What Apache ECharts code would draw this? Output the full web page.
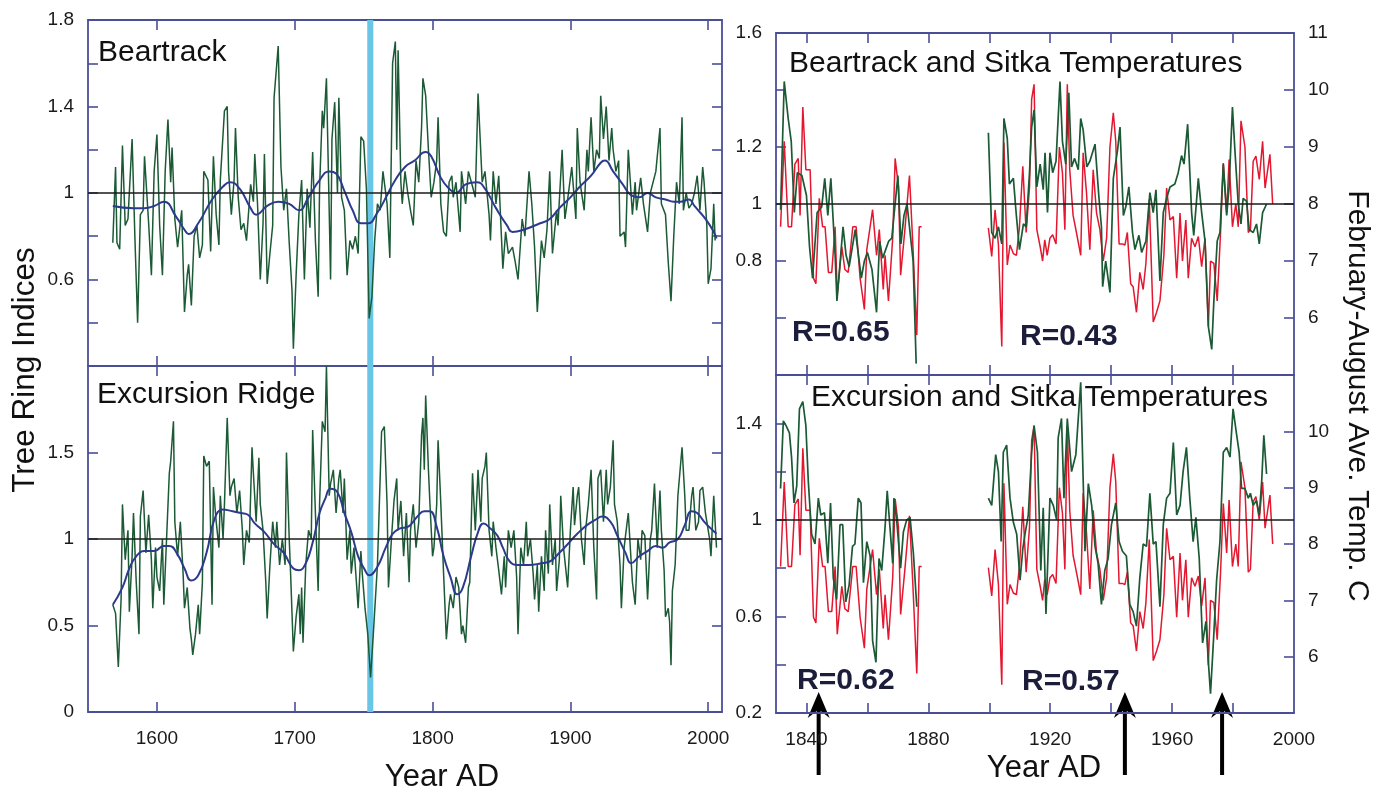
<!DOCTYPE html>
<html>
<head>
<meta charset="utf-8">
<script src="https://cdn.jsdelivr.net/npm/echarts@6/dist/echarts.min.js"></script>
<style>
  html, body { margin: 0; padding: 0; background: #fff; }
  #main { width: 1384px; height: 792px; }
</style>
</head>
<body>
<div id="main"></div>
<script>
// tick / label positions
const leftXTicks = [1600, 1700, 1800, 1900, 2000];
const rightXTicks = [1840, 1860, 1880, 1900, 1920, 1940, 1960, 1980];
const rightXLabels = [1840, 1880, 1920, 1960, 2000];
const btYTicks = [0.4, 0.6, 0.8, 1, 1.2, 1.4, 1.6];
const btYLabels = [0.6, 1, 1.4, 1.8];
const exYTicks = [0.5, 1, 1.5];
const exYLabels = [0, 0.5, 1, 1.5];
const btRYTicks = [0.6, 0.8, 1, 1.2, 1.4];
const btRYLabels = [0.8, 1, 1.2, 1.6];
const exRYTicks = [0.4, 0.6, 0.8, 1, 1.2, 1.4];
const exRYLabels = [0.2, 0.6, 1, 1.4];
const tempTicks = [6, 7, 8, 9, 10];
const tempTopLabels = [6, 7, 8, 9, 10, 11];
const tempBottomLabels = [6, 7, 8, 9, 10];
const bandYears = [1752.6, 1757];
const arrowYears = [1844, 1944.5, 1976.4];

// Beartrack ring width index, 1568-2005
const beartrack = [
  [1568,0.77],[1570,1.12],[1571,0.77],[1573,0.74],[1575,1.22],[1577,0.85],[1579,0.88],[1582,1.25],[1584,0.80],[1586,0.40],
  [1588,0.90],[1590,0.92],[1591,1.17],[1594,0.86],[1596,0.62],[1598,1.10],[1600,1.27],[1602,0.85],[1604,0.62],[1606,1.10],
  [1608,1.34],[1610,1.05],[1611,1.21],[1613,0.88],[1615,0.75],[1618,0.92],[1620,0.45],[1622,0.62],[1623,0.67],[1625,0.48],
  [1627,0.80],[1629,0.85],[1631,0.70],[1633,0.76],[1634,1.10],[1637,1.06],[1639,0.73],[1641,1.17],[1643,0.90],[1645,0.76],
  [1646,1.06],[1649,1.38],[1651,1.40],[1652,1.10],[1654,0.90],[1656,1.06],[1657,1.30],[1659,0.98],[1661,0.83],[1663,0.86],
  [1665,0.78],[1668,1.04],[1670,0.96],[1671,1.18],[1673,0.95],[1675,0.60],[1677,0.86],[1678,1.18],[1680,0.58],[1682,0.72],
  [1684,0.85],[1685,1.44],[1688,1.68],[1690,1.12],[1692,0.92],[1694,1.02],[1696,0.77],[1698,0.55],[1699,0.28],[1701,0.62],
  [1703,0.90],[1705,1.06],[1707,0.60],[1709,1.02],[1711,0.84],[1713,1.19],[1715,0.78],[1717,0.52],[1718,1.02],[1720,1.38],
  [1721,1.30],[1723,1.53],[1725,0.92],[1726,0.60],[1727,1.25],[1729,1.42],[1731,1.00],[1732,1.44],[1734,0.98],[1736,0.92],
  [1738,0.62],[1740,0.78],[1742,0.74],[1744,0.80],[1746,0.72],[1748,1.26],[1750,1.24],[1752,1.02],[1754,0.42],[1756,0.52],
  [1758,0.78],[1760,0.95],[1762,0.92],[1764,1.10],[1767,0.95],[1769,0.70],[1771,1.60],[1773,1.70],[1774,1.20],[1775,1.66],
  [1777,1.05],[1778,0.95],[1780,1.10],[1782,1.00],[1784,0.92],[1786,0.85],[1788,1.15],[1790,1.05],[1792,1.30],[1793,1.53],
  [1795,1.45],[1797,1.20],[1799,0.98],[1801,1.05],[1803,1.15],[1804,1.35],[1806,0.95],[1808,0.82],[1810,0.80],[1812,1.05],
  [1814,1.08],[1815,0.98],[1817,1.05],[1820,0.82],[1821,1.10],[1824,0.95],[1826,1.10],[1829,1.03],[1831,0.98],[1833,1.46],
  [1836,1.05],[1838,1.10],[1841,0.90],[1842,0.78],[1844,1.10],[1846,0.95],[1848,1.08],[1851,0.65],[1853,0.82],[1855,0.72],
  [1858,0.75],[1860,0.68],[1862,0.60],[1865,0.88],[1867,0.80],[1870,1.10],[1872,0.95],[1874,0.75],[1876,0.45],[1879,0.78],
  [1881,0.70],[1883,0.83],[1885,1.10],[1887,0.72],[1890,0.92],[1891,0.85],[1894,1.20],[1896,0.88],[1898,0.97],[1901,1.12],
  [1904,0.88],[1905,1.30],[1907,1.05],[1910,0.92],[1912,1.20],[1913,1.10],[1915,1.35],[1917,1.10],[1919,1.20],[1921,1.16],
  [1922,1.45],[1924,1.25],[1926,1.40],[1928,1.15],[1930,1.30],[1931,1.20],[1933,1.10],[1935,1.15],[1936,0.80],[1939,0.82],
  [1940,0.75],[1942,1.20],[1945,0.90],[1947,1.05],[1948,0.92],[1951,1.07],[1953,0.95],[1956,0.82],[1958,1.00],[1960,1.05],
  [1962,1.10],[1965,1.30],[1966,0.95],[1969,0.90],[1971,0.68],[1973,0.50],[1975,0.80],[1977,1.05],[1979,0.95],[1981,1.35],
  [1982,0.92],[1984,1.00],[1986,0.93],[1988,0.95],[1990,1.00],[1992,1.08],[1994,0.92],[1996,1.12],[1997,1.05],[1999,0.85],
  [2000,0.58],[2002,0.65],[2004,0.95],[2005,0.78]
];
const beartrackSmooth = [
  [1568,0.94],[1583,0.93],[1591,0.93],[1598,0.94],[1605,0.96],[1614,0.89],[1620,0.83],[1623,0.81],[1630,0.86],[1640,0.97],
  [1648,1.03],[1653,1.05],[1660,1.02],[1668,0.93],[1672,0.90],[1680,0.94],[1688,0.96],[1696,0.95],[1703,0.92],[1710,0.98],
  [1718,1.06],[1725,1.10],[1730,1.09],[1736,1.01],[1742,0.92],[1748,0.86],[1753,0.86],[1760,0.91],[1767,0.99],[1772,1.05],
  [1780,1.12],[1787,1.15],[1795,1.19],[1799,1.17],[1806,1.07],[1812,1.02],[1817,1.00],[1824,1.04],[1832,1.05],[1838,1.02],
  [1846,0.93],[1854,0.85],[1858,0.82],[1866,0.83],[1878,0.86],[1885,0.88],[1892,0.93],[1900,0.98],[1907,1.03],[1915,1.08],
  [1922,1.14],[1925,1.15],[1931,1.10],[1938,1.04],[1944,0.99],[1950,0.98],[1956,1.00],[1962,0.98],[1969,0.97],[1975,0.96],
  [1980,0.96],[1986,0.97],[1990,0.94],[1998,0.88],[2004,0.82],[2006,0.79]
];

// Excursion Ridge ring width index, 1568-2006
const excursion = [
  [1568,0.62],[1570,0.57],[1572,0.26],[1574,0.65],[1575,1.20],[1577,0.88],[1579,1.05],[1580,0.58],[1582,0.90],[1583,1.15],
  [1585,0.75],[1587,0.45],[1588,1.13],[1590,1.28],[1592,0.92],[1594,1.14],[1596,0.88],[1597,0.60],[1599,0.95],[1600,0.78],
  [1602,0.70],[1604,1.00],[1605,0.62],[1607,1.00],[1609,1.38],[1610,1.45],[1612,1.68],[1613,1.10],[1615,0.90],[1617,1.10],
  [1619,0.80],[1620,0.60],[1622,0.72],[1624,0.48],[1625,0.42],[1626,0.33],[1628,0.45],[1630,0.62],[1631,0.45],[1633,0.75],
  [1634,1.48],[1636,1.42],[1638,1.45],[1640,0.62],[1641,1.30],[1643,1.10],[1645,0.95],[1646,1.25],[1648,1.00],[1649,1.20],
  [1651,1.70],[1653,1.25],[1654,1.30],[1656,1.35],[1658,1.15],[1660,1.28],[1662,1.05],[1663,0.85],[1665,1.05],[1667,0.98],
  [1669,1.53],[1670,1.38],[1672,1.10],[1674,1.47],[1675,1.20],[1677,1.05],[1679,0.75],[1680,0.54],[1682,0.85],[1684,1.10],
  [1686,0.95],[1687,1.10],[1689,0.85],[1691,1.00],[1693,0.85],[1694,1.50],[1696,1.00],[1697,0.80],[1699,0.35],[1701,0.55],
  [1703,0.68],[1704,0.45],[1705,0.72],[1706,0.40],[1708,0.85],[1710,1.05],[1712,1.00],[1713,1.63],[1715,1.15],[1717,0.70],
  [1718,1.20],[1720,1.68],[1722,1.62],[1723,2.00],[1725,1.25],[1726,1.32],[1728,1.40],[1730,1.15],[1732,1.35],[1733,1.40],
  [1735,1.15],[1736,1.35],[1738,0.88],[1740,1.05],[1741,0.80],[1743,0.95],[1745,0.72],[1746,0.60],[1748,0.93],[1749,0.80],
  [1751,0.60],[1753,0.45],[1755,0.20],[1757,0.45],[1760,0.85],[1761,1.10],[1763,1.62],[1765,1.65],[1767,1.20],[1768,0.72],
  [1770,0.98],[1772,1.22],[1774,1.35],[1775,1.05],[1777,1.22],[1779,0.90],[1781,1.15],[1783,0.75],[1784,1.05],[1786,1.20],
  [1788,0.95],[1790,1.10],[1792,1.60],[1793,1.70],[1794,1.40],[1795,1.83],[1797,1.40],[1798,1.22],[1800,0.90],[1801,0.95],
  [1803,1.20],[1804,1.57],[1806,1.20],[1808,0.80],[1810,0.42],[1812,0.62],[1813,0.68],[1815,0.60],[1817,0.78],[1819,0.72],
  [1821,0.45],[1822,0.50],[1824,0.40],[1826,0.72],[1827,0.75],[1829,1.38],[1831,1.05],[1833,1.40],[1835,1.10],[1836,1.35],
  [1838,1.42],[1839,1.50],[1841,1.05],[1843,0.90],[1844,1.10],[1846,0.95],[1848,0.82],[1850,0.68],[1852,0.90],[1853,0.72],
  [1855,1.05],[1857,0.95],[1859,1.05],[1861,0.78],[1862,0.45],[1864,0.95],[1866,0.85],[1868,1.10],[1869,0.90],[1871,1.00],
  [1873,0.80],[1874,0.65],[1876,0.85],[1877,0.58],[1879,0.90],[1881,0.70],[1882,1.05],[1884,0.80],[1885,1.20],[1887,0.85],
  [1889,1.00],[1890,0.70],[1892,0.88],[1893,1.25],[1895,0.95],[1897,0.80],[1898,0.72],[1900,1.05],[1902,1.30],[1903,1.08],
  [1905,1.25],[1906,1.30],[1908,1.00],[1910,0.85],[1911,1.05],[1913,1.20],[1915,1.40],[1917,0.95],[1919,0.65],[1920,1.35],
  [1922,1.40],[1924,1.10],[1926,1.40],[1927,1.20],[1929,1.30],[1931,1.57],[1932,1.20],[1934,1.10],[1936,0.85],[1937,0.60],
  [1939,0.95],[1940,1.02],[1942,1.15],[1944,0.88],[1945,0.75],[1947,0.62],[1949,1.00],[1951,0.88],[1952,1.05],[1954,1.02],
  [1956,0.65],[1958,1.00],[1959,1.05],[1961,1.32],[1963,0.95],[1965,1.28],[1966,1.05],[1968,0.82],[1969,0.55],[1971,0.60],
  [1972,0.52],[1973,0.27],[1974,0.70],[1976,0.85],[1978,1.25],[1979,1.25],[1981,1.53],[1983,1.25],[1984,1.05],[1986,1.05],
  [1988,1.25],[1989,1.30],[1991,1.05],[1993,1.10],[1994,1.28],[1996,1.30],[1998,1.15],[2000,1.05],[2001,1.00],[2002,0.90],
  [2004,1.25],[2006,0.95]
];
const excursionSmooth = [
  [1568,0.62],[1575,0.72],[1580,0.83],[1585,0.90],[1591,0.93],[1598,0.93],[1605,0.96],[1609,0.96],[1615,0.91],[1620,0.83],
  [1625,0.76],[1630,0.79],[1636,0.92],[1642,1.12],[1648,1.17],[1655,1.16],[1661,1.15],[1666,1.14],[1671,1.09],[1678,1.04],
  [1685,0.97],[1692,0.92],[1699,0.83],[1703,0.82],[1708,0.86],[1713,0.98],[1718,1.15],[1722,1.23],[1726,1.29],[1731,1.27],
  [1736,1.15],[1741,1.04],[1746,0.90],[1751,0.82],[1754,0.79],[1760,0.84],[1766,0.95],[1771,1.03],[1776,1.06],[1782,1.07],
  [1789,1.13],[1794,1.16],[1798,1.16],[1803,1.07],[1808,0.90],[1813,0.78],[1818,0.68],[1822,0.72],[1828,0.90],[1833,1.04],
  [1837,1.09],[1842,1.06],[1847,1.02],[1851,0.95],[1856,0.87],[1862,0.85],[1870,0.85],[1879,0.86],[1885,0.87],[1892,0.92],
  [1898,0.97],[1905,1.03],[1912,1.08],[1918,1.11],[1923,1.13],[1929,1.10],[1934,1.02],[1940,0.92],[1944,0.86],[1950,0.90],
  [1956,0.93],[1962,0.96],[1967,0.95],[1972,0.98],[1978,1.00],[1983,1.08],[1988,1.16],[1992,1.15],[1997,1.10],[2002,1.06],
  [2006,1.03]
];

// right-hand panels: ring index (left axis) and Sitka Feb-Aug temperature (right axis)
const beartrackRecent = [
  [1831.5,0.98],[1832.7,1.43],[1834,1.30],[1835,1.22],[1836,0.97],[1837,1.11],[1838.5,1.10],[1840,1.03],[1841,0.85],[1842,0.74],
  [1843.5,0.97],[1845,0.99],[1846,1.09],[1847,0.96],[1848,1.09],[1849.4,0.82],[1850,0.66],[1852,0.92],[1853,0.82],[1854,0.78],
  [1856,0.91],[1858,0.74],[1859,0.80],[1860,0.83],[1861.5,0.77],[1863,0.62],[1864,0.87],[1865,0.81],[1867,0.87],[1868,0.88],
  [1870,1.10],[1871,0.86],[1872,0.96],[1873,1.00],[1875,0.80],[1876,0.44],
  [1888,null],
  [1899.7,1.25],[1900.8,0.90],[1901.9,0.88],[1903,0.92],[1904.1,0.86],[1904.8,1.30],[1905.9,1.23],[1906.6,1.07],[1907.9,1.09],
  [1908.8,0.97],[1909.9,0.84],[1911.2,0.93],[1912.1,0.92],[1913.2,1.11],[1913.9,1.27],[1914.7,1.33],[1915.6,1.06],[1916.7,1.14],
  [1917.7,1.05],[1918.3,1.18],[1919.1,0.97],[1919.9,1.18],[1920.8,1.11],[1921.9,1.15],[1923.2,1.43],[1924,1.22],[1925.1,1.14],
  [1926.1,1.39],[1927,1.13],[1928,1.16],[1929.2,1.12],[1930,1.30],[1930.8,1.26],[1932,1.13],[1933,1.15],[1934.7,1.21],
  [1936,1.02],[1936.8,0.92],[1937.2,0.71],[1938.2,0.80],[1939.6,0.69],[1940.7,1.09],[1942.1,1.19],[1942.9,1.27],[1944,0.96],
  [1944.8,0.99],[1945.8,1.06],[1947,0.90],[1947.8,0.84],[1949.1,0.89],[1950,0.83],[1951.4,0.87],[1952.7,1.04],[1953.8,0.97],
  [1954.7,1.05],[1956,0.73],[1957.1,0.97],[1958.2,1.02],[1959.3,1.06],[1960.9,1.07],[1962,1.11],[1963.1,1.17],[1963.9,1.14],
  [1965.1,1.28],[1966.4,0.97],[1967.1,0.89],[1968.6,1.09],[1969.7,0.97],[1970.8,0.87],[1971.9,0.57],[1973,0.49],[1973.7,0.66],
  [1974.8,0.87],[1975.7,0.90],[1976.8,1.14],[1977.9,0.96],[1978.7,1.06],[1979.8,1.34],[1980.6,1.19],[1981.7,1.00],[1982.6,0.93],
  [1983.3,1.02],[1984.4,1.01],[1985.3,0.91],[1986.6,0.90],[1987.7,0.93],[1988.6,0.86],[1989.7,0.97],[1991,1.00]
];
const excursionRecent = [
  [1831.5,1.13],[1832.4,1.41],[1833.3,1.39],[1834.4,1.36],[1835.1,1.26],[1835.9,1.07],[1836.8,1.14],[1837.7,1.46],[1838.8,1.49],
  [1839.8,1.39],[1840.6,1.16],[1841.7,0.94],[1842.8,0.90],[1843.9,1.09],[1844.7,1.02],[1845.9,1.03],[1847,0.82],[1847.9,1.07],
  [1848.8,0.76],[1849.9,0.67],[1851,0.98],[1851.9,0.98],[1852.9,0.66],[1854,0.73],[1855.1,0.89],[1855.9,0.90],[1857,1.09],
  [1857.9,1.07],[1858.7,0.74],[1859.8,0.91],[1860.9,0.85],[1861.7,0.50],[1862.8,0.41],[1863.8,0.84],[1864.7,0.79],[1865.8,0.97],
  [1866.5,1.12],[1867.4,0.97],[1868.3,0.82],[1868.7,1.09],[1869.6,1.00],[1870.9,0.80],[1871.8,0.95],[1872.9,1.00],[1874,1.01],
  [1875.1,0.86],[1876.2,0.64],
  [1888,null],
  [1899.7,1.09],[1900.8,1.06],[1902.1,1.27],[1903,1.20],[1903.9,0.91],[1904.6,1.28],[1905.7,1.31],[1906.8,1.09],[1907.9,0.99],
  [1909,0.94],[1910.1,0.75],[1911,0.88],[1911.7,0.94],[1912.8,1.02],[1913.9,1.28],[1914.7,1.39],[1915.8,1.28],[1916.9,0.79],
  [1917.7,1.05],[1918.6,0.61],[1919.9,1.09],[1921,1.06],[1922.1,1.00],[1922.6,1.34],[1923.7,1.42],[1924.5,1.09],[1925.6,1.42],
  [1927,1.20],[1928.4,1.27],[1930,1.57],[1931.4,0.87],[1932.5,1.15],[1933.6,1.06],[1934.7,0.89],[1935.7,0.82],[1936.8,0.65],
  [1937.9,0.79],[1939,0.84],[1940.1,0.98],[1941.5,1.07],[1942.6,0.91],[1943.7,0.87],[1945,0.85],[1946.1,0.65],[1947.2,0.62],
  [1948.3,0.56],[1949.4,0.76],[1950.5,0.90],[1951.6,0.89],[1952.7,1.11],[1953.8,0.90],[1954.7,0.91],[1956,0.64],[1957.1,0.98],
  [1958.2,1.09],[1959.3,1.11],[1960.4,1.32],[1961.5,1.02],[1962.6,1.06],[1963.6,1.20],[1964.7,1.30],[1965.8,1.09],[1966.9,0.91],
  [1967.8,1.01],[1968.9,0.84],[1970,0.49],[1971.1,0.58],[1971.9,0.41],[1972.6,0.28],[1973.7,0.53],[1974.6,0.75],[1975.7,0.91],
  [1976.8,1.28],[1977.9,1.30],[1979,1.26],[1980,1.46],[1981.2,1.35],[1982,1.28],[1982.8,1.13],[1983.9,1.13],[1985,1.09],
  [1985.7,1.11],[1986.6,1.06],[1987.7,1.08],[1988.6,1.02],[1989.4,1.16],[1990.1,1.35],[1991,1.19]
];
const sitkaTemp = [
  [1831.5,7.6],[1832.7,9.1],[1834,7.6],[1835.1,7.6],[1836.2,8.7],[1837.3,8.8],[1837.9,7.8],[1838.8,9.7],[1839.8,8.6],[1841.2,8.6],
  [1842.3,6.7],[1843.1,6.6],[1844.2,8.1],[1845.3,7.6],[1846.1,7.6],[1847.2,6.8],[1848.3,6.8],[1849.4,7.6],[1850.1,6.4],[1851.6,7.25],
  [1852.6,6.85],[1853.7,6.8],[1855.2,7.6],[1856.3,7.6],[1857.6,6.7],[1859,6.15],[1859.8,7.2],[1861.7,7.9],[1863,7.1],[1863.9,7.55],
  [1865.2,6.5],[1865.8,7.1],[1866.9,6.3],[1868.3,7.4],[1869.1,8.8],[1870.2,8.3],[1870.9,6.75],[1872.3,7.55],[1873.8,8.5],[1874.9,7.3],
  [1876.2,5.7],[1877,7.6],[1877.8,7.6],
  [1888,null],
  [1899.7,7.58],[1900.8,7.08],[1901.9,7.9],[1903,7.28],[1904.1,5.5],[1904.8,9.08],[1905.9,6.93],[1906.8,7.28],[1907.9,7.13],
  [1908.9,7.1],[1909.9,7.6],[1911,8.66],[1912.1,7.5],[1913.2,8.3],[1913.9,9.84],[1914.7,10.1],[1915.6,7.55],[1916.7,7.25],
  [1917.5,7.0],[1918.2,7.37],[1919,7.1],[1919.9,7.4],[1920.8,7.46],[1921.9,7.3],[1923,9.0],[1924,8.55],[1924.8,7.55],[1925.6,10.1],
  [1926.4,8.6],[1927.5,7.8],[1928.6,7.5],[1930,7.1],[1930.8,8.9],[1931.9,8.2],[1933,7.2],[1934.1,8.6],[1935.2,7.84],[1936.3,7.55],
  [1937.4,7.0],[1938.5,7.4],[1939.6,9.0],[1940.7,9.6],[1941.5,9.1],[1942.6,7.3],[1943.7,7.3],[1944.5,7.28],[1945.3,7.5],[1946.4,6.6],
  [1947.2,6.55],[1948.3,6.1],[1949.4,6.8],[1950.5,6.5],[1951.4,6.96],[1952.5,8.08],[1953.8,5.93],[1954.9,6.1],[1956,6.3],[1957.3,7.1],
  [1958.2,8.28],[1959.3,7.72],[1960.4,7.78],[1961.5,6.7],[1962.6,7.84],[1963.4,7.0],[1964.5,7.72],[1965.3,6.7],[1966.4,7.4],
  [1967.5,7.25],[1968.6,7.43],[1969.7,6.9],[1970.8,7.4],[1971.9,5.85],[1972.6,7.0],[1973.7,6.96],[1974.8,6.3],[1975.9,7.5],
  [1976.8,8.72],[1977.9,7.84],[1978.7,8.78],[1979.8,7.6],[1980.9,8.0],[1981.7,7.6],[1982.6,9.46],[1983.9,9.0],[1985,7.5],
  [1985.7,7.55],[1986.6,8.75],[1987.5,8.84],[1988.6,8.43],[1989.7,9.1],[1990.5,8.28],[1991,8.3],[1992.1,8.87],[1993,8.0]
];

const FONT = '"Liberation Sans", Arial, Helvetica, sans-serif';
const AXIS_COLOR = '#4a4e97';
const GREEN = '#1b5a35';
const RED = '#e3172f';
const NAVY = '#2c3a8e';

function plainNum(v) {
    return String(Math.round(v * 100) / 100);
}

function xAx(grid, min, max, pos, ticks, labels) {
    return {
        type: 'value', gridIndex: grid, min: min, max: max, position: pos,
        axisLine: { show: true, onZero: false, lineStyle: { color: AXIS_COLOR, width: 1.8 } },
        axisTick: { show: true, inside: true, length: 10, customValues: ticks, lineStyle: { color: AXIS_COLOR, width: 1.6 } },
        axisLabel: labels ? { show: true, customValues: labels, formatter: plainNum, margin: 17, color: '#1a1a1a', fontSize: 19, fontFamily: FONT } : { show: false },
        splitLine: { show: false }
    };
}
function yAx(grid, min, max, pos, ticks, labels) {
    return {
        type: 'value', gridIndex: grid, min: min, max: max, position: pos,
        axisLine: { show: true, onZero: false, lineStyle: { color: AXIS_COLOR, width: 1.8 } },
        axisTick: { show: true, inside: true, length: 10, customValues: ticks, lineStyle: { color: AXIS_COLOR, width: 1.6 } },
        axisLabel: labels ? { show: true, customValues: labels, formatter: plainNum, margin: 14, color: '#1a1a1a', fontSize: 19, fontFamily: FONT } : { show: false },
        splitLine: { show: false }
    };
}

const oneLine = {
    silent: true, symbol: 'none', animation: false,
    label: { show: false },
    lineStyle: { color: '#1a1a1a', width: 1.5, type: 'solid' },
    data: [{ yAxis: 1 }]
};
const band = {
    silent: true,
    itemStyle: { color: '#6ac6e6', opacity: 1 },
    data: [[{ xAxis: bandYears[0] }, { xAxis: bandYears[1] }]]
};

function lineSeries(x, y, data, color, width, extra) {
    return Object.assign({
        type: 'line', xAxisIndex: x, yAxisIndex: y, data: data,
        symbol: 'none', showSymbol: false, connectNulls: false,
        lineStyle: { color: color, width: width }, itemStyle: { color: color }
    }, extra || {});
}

function txt(x, y, text, size, opts) {
    return Object.assign({
        type: 'text', x: x, y: y, silent: true,
        style: Object.assign({ text: text, fill: '#111', fontSize: size, fontFamily: FONT, align: 'left', verticalAlign: 'middle' }, (opts && opts.style) || {})
    }, (opts && opts.el) || {});
}

const chart = echarts.init(document.getElementById('main'));

const option = {
    animation: false,
    backgroundColor: '#fff',
    grid: [
        { left: 88, top: 20, width: 634, height: 346 },
        { left: 88, top: 366, width: 634, height: 346 },
        { left: 776, top: 33, width: 518, height: 342 },
        { left: 776, top: 375, width: 518, height: 338 }
    ],
    xAxis: [
        xAx(0, 1550, 2010, 'bottom', leftXTicks, null),
        xAx(0, 1550, 2010, 'top', leftXTicks, null),
        xAx(1, 1550, 2010, 'bottom', leftXTicks, leftXTicks),
        xAx(1, 1550, 2010, 'top', leftXTicks, null),
        xAx(2, 1830, 2000, 'bottom', rightXTicks, null),
        xAx(2, 1830, 2000, 'top', rightXTicks, null),
        xAx(3, 1830, 2000, 'bottom', rightXTicks, rightXLabels),
        xAx(3, 1830, 2000, 'top', rightXTicks, null)
    ],
    yAxis: [
        yAx(0, 0.2, 1.8, 'left', btYTicks, btYLabels),
        yAx(0, 0.2, 1.8, 'right', btYTicks, null),
        yAx(1, 0, 2, 'left', exYTicks, exYLabels),
        yAx(1, 0, 2, 'right', exYTicks, null),
        yAx(2, 0.4, 1.6, 'left', btRYTicks, btRYLabels),
        yAx(2, 5, 11, 'right', tempTicks, tempTopLabels),
        yAx(3, 0.2, 1.6, 'left', exRYTicks, exRYLabels),
        yAx(3, 5, 11, 'right', tempTicks, tempBottomLabels)
    ],
    series: [
        lineSeries(0, 0, beartrack, GREEN, 1.5, { markArea: band, markLine: oneLine, z: 2 }),
        lineSeries(0, 0, beartrackSmooth, NAVY, 2, { smooth: 0.5, z: 3 }),
        lineSeries(2, 2, excursion, GREEN, 1.5, { markArea: band, markLine: oneLine, z: 2 }),
        lineSeries(2, 2, excursionSmooth, NAVY, 2, { smooth: 0.5, z: 3 }),
        lineSeries(4, 5, sitkaTemp, RED, 1.5, { z: 2 }),
        lineSeries(4, 4, beartrackRecent, GREEN, 1.7, { markLine: oneLine, z: 3 }),
        lineSeries(6, 7, sitkaTemp, RED, 1.5, { z: 2 }),
        lineSeries(6, 6, excursionRecent, GREEN, 1.7, { markLine: oneLine, z: 3 })
    ]
};
chart.setOption(option);

// text and arrows
const rStyle = { style: { fontWeight: 'bold', fill: '#1b1d3a' } };
const graphics = [
    txt(98, 53, 'Beartrack', 30),
    txt(97, 395, 'Excursion Ridge', 30),
    txt(789, 64, 'Beartrack and Sitka Temperatures', 30),
    txt(811, 398, 'Excursion and Sitka Temperatures', 30),
    txt(792, 333, 'R=0.65', 30, rStyle),
    txt(1020, 337, 'R=0.43', 30, rStyle),
    txt(797, 681, 'R=0.62', 30, rStyle),
    txt(1022, 682, 'R=0.57', 30, rStyle),
    txt(442, 777, 'Year AD', 31, { style: { align: 'center' } }),
    txt(1044, 768, 'Year AD', 31, { style: { align: 'center' } }),
    txt(25, 370, 'Tree Ring Indices', 31.5, { style: { align: 'center' }, el: { rotation: Math.PI / 2 } }),
    txt(1357, 396, 'February-August Ave. Temp. C', 30, { style: { align: 'center' }, el: { rotation: -Math.PI / 2 } })
];
arrowYears.forEach(function (yr) {
    const px = chart.convertToPixel({ xAxisIndex: 6 }, yr);
    graphics.push({
        type: 'polygon', x: px, y: 692, silent: true,
        shape: { points: [[0, 0], [11, 26], [2, 19], [2, 83], [-2, 83], [-2, 19], [-11, 26]] },
        style: { fill: '#000' }
    });
});
chart.setOption({ graphic: graphics });
</script>
</body>
</html>
